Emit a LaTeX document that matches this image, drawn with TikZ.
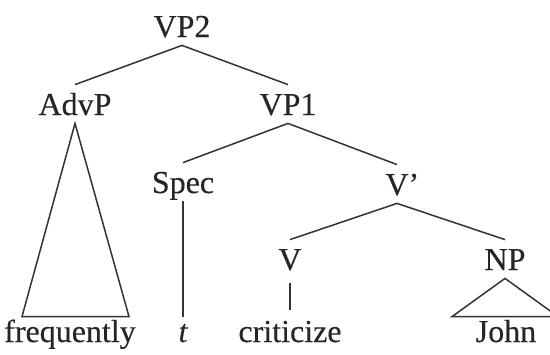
\documentclass[tikz,border=0pt]{standalone}
\usepackage{fontspec}
\setmainfont{Liberation Serif}[FakeBold=0.3]
\usepackage{tikz}
\usetikzlibrary{calc}

\begin{document}
\begin{tikzpicture}[
      x=0.5pt, y=-0.5pt,
      cat/.style={anchor=base, inner xsep=0pt, inner ysep=4pt,
                  text height=11pt, text depth=0pt,
                  font=\fontsize{16}{19}\selectfont, text=black!85},
      leaf/.style={cat, text height=8pt, inner ysep=4.5pt},
      branch/.style={draw=black!80, line width=0.75pt, line join=miter}
    ]
      \useasboundingbox[fill=white] (0,0) rectangle (550,354);
      \clip (0,0) rectangle (550,354);

      % Categories
      \node[cat] (vp2)  at (182,37)  {VP2};
      \node[cat] (advp) at (75,115)  {AdvP};
      \node[cat] (vp1)  at (288,115) {VP1};
      \node[cat] (spec) at (183,193) {Spec};
      \node[cat] (vbar) at (397,195) {V\rlap{’}};
      \node[cat] (v)    at (290,270) {V};
      \node[cat] (np)   at (505,270) {NP};

      % Words
      \node[leaf] (freq) at (70,342)  {frequently};
      \node[leaf] (t)    at (183,342) {\itshape t};
      \node[leaf] (crit) at (290,342) {criticize};
      \node[leaf] (john) at (506,342) {John};

      % Branches
      \draw[branch] (vp2.south) -- (advp.north);
      \draw[branch] (vp2.south) -- (vp1.north);
      \draw[branch] (vp1.south) -- (spec.north);
      \draw[branch] (vp1.south) -- (vbar.north);
      \draw[branch] (vbar.south) -- (v.north);
      \draw[branch] (vbar.south) -- (np.north);
      \draw[branch] (spec.south) -- (t.north);
      \draw[branch, shorten <=2.5pt, shorten >=3.5pt] (v.south) -- (crit.north);

      % Triangles over unanalysed phrases
      \draw[branch] (advp.south) -- ($(advp.south |- freq.north)+(-53,0)$)
                    -- ($(advp.south |- freq.north)+(54,0)$) -- cycle;
      \draw[branch] (np.south) -- ($(np.south |- john.north)+(-53,0)$)
                    -- ($(np.south |- john.north)+(53,0)$) -- cycle;

    \end{tikzpicture}
\end{document}
